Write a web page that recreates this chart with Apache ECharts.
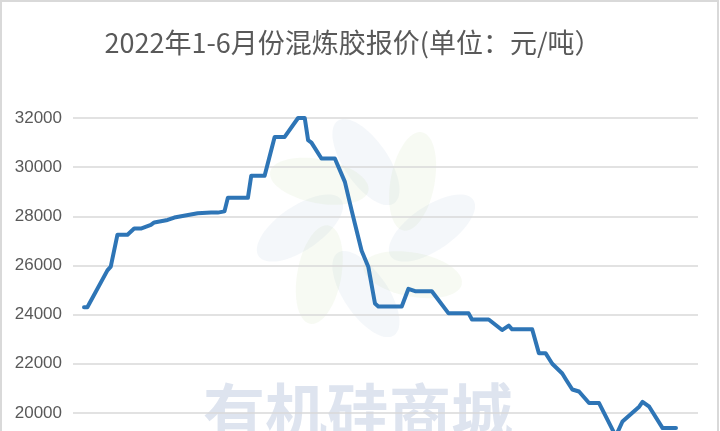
<!DOCTYPE html>
<html>
<head>
<meta charset="utf-8">
<script src="https://cdn.jsdelivr.net/npm/echarts@6/dist/echarts.min.js"></script>
<style>
html,body{margin:0;padding:0;background:#fff;overflow:hidden;}
#chart{width:720px;height:520px;}
</style>
</head>
<body>
<div id="chart"></div>
<script>
// Title
const titleText = '2022年1-6月份混炼胶报价(单位：元/吨）';
const watermarkText = '有机硅商城';

// Dates of price changes (turning points of the line)
const dates = [
  '2022-01-04','2022-01-05','2022-01-11','2022-01-12','2022-01-14','2022-01-17',
  '2022-01-19','2022-01-21','2022-01-24','2022-01-25','2022-01-27','2022-01-29',
  '2022-01-31','2022-02-07','2022-02-11','2022-02-13','2022-02-15','2022-02-16',
  '2022-02-22','2022-02-23','2022-02-27','2022-03-02','2022-03-05','2022-03-09',
  '2022-03-11','2022-03-12','2022-03-13','2022-03-16','2022-03-20','2022-03-23',
  '2022-03-25','2022-03-26','2022-03-28','2022-03-30','2022-04-01','2022-04-02',
  '2022-04-09','2022-04-11','2022-04-13','2022-04-18','2022-04-23','2022-04-29',
  '2022-04-30','2022-05-05','2022-05-09','2022-05-11','2022-05-12','2022-05-18',
  '2022-05-20','2022-05-22','2022-05-24','2022-05-27','2022-05-28','2022-05-30',
  '2022-06-01','2022-06-04','2022-06-07','2022-06-12','2022-06-14','2022-06-19',
  '2022-06-20','2022-06-22','2022-06-26','2022-06-30'
];
// Price (yuan / ton)
const prices = [
  24300,24300,25800,25950,27250,27250,
  27500,27500,27650,27750,27800,27850,
  27950,28120,28150,28150,28200,28750,
  28750,29650,29650,31230,31230,32000,
  32000,31100,31000,30350,30350,29400,
  28250,27700,26600,25950,24450,24330,
  24330,25050,24950,24950,24050,24050,
  23800,23800,23370,23550,23400,23400,
  22430,22430,22000,21600,21380,20950,
  20870,20400,20400,19050,19650,20250,
  20450,20250,19380,19380
];
const yTicks = [18000, 20000, 22000, 24000, 26000, 28000, 30000, 32000];

const chart = echarts.init(document.getElementById('chart'), null, {renderer:'canvas'});

const petals = [];
const petalColors = ['rgba(170,190,220,0.13)','rgba(190,220,160,0.13)'];
for (let i = 0; i < 8; i++) {
  const a = i * Math.PI / 4 - Math.PI / 2;
  petals.push({
    type: 'ellipse',
    x: 366 + Math.cos(a) * 66,
    y: 228 + Math.sin(a) * 66,
    rotation: -a + 0.6,
    shape: {cx: 0, cy: 0, rx: 50, ry: 22},
    style: {fill: petalColors[i % 2]},
    z: -10, silent: true
  });
}

chart.setOption({
  animation: false,
  backgroundColor: '#ffffff',
  grid: {left: 73, right: 22, top: 118, bottom: 58},
  xAxis: {
    type: 'time',
    min: '2021-12-31 17:00',
    max: '2022-07-06 14:00',
    axisLine: {show: false},
    axisTick: {show: false},
    axisLabel: {show: false},
    splitLine: {show: false}
  },
  yAxis: {
    type: 'value',
    min: yTicks[0],
    max: yTicks[yTicks.length - 1],
    interval: 2000,
    axisLine: {show: false},
    axisTick: {show: false},
    axisLabel: {
      color: '#595959',
      fontSize: 17,
      fontFamily: 'Liberation Sans',
      margin: 11,
      formatter: (v) => String(v)
    },
    splitLine: {lineStyle: {color: '#d9d9d9', width: 1.5}}
  },
  graphic: [
    {
      type: 'rect',
      shape: {x: 1, y: 1, width: 717, height: 600},
      style: {fill: 'none', stroke: '#d9d9d9', lineWidth: 2},
      z: -20, silent: true
    }
  ].concat(petals).concat([
    {
      type: 'text',
      x: 358, y: 412,
      style: {
        text: watermarkText,
        fill: 'rgba(200,210,228,0.6)',
        font: 'bold 62px "Noto Sans CJK SC"',
        textAlign: 'center',
        textVerticalAlign: 'middle'
      },
      z: -5, silent: true
    },
    {
      type: 'text',
      x: 353, y: 43,
      style: {
        text: titleText,
        fill: '#595959',
        font: '27px "Noto Sans CJK SC"',
        textAlign: 'center',
        textVerticalAlign: 'middle'
      },
      silent: true
    }
  ]),
  series: [{
    type: 'line',
    data: dates.map((d, i) => [d, prices[i]]),
    showSymbol: false,
    symbol: 'none',
    smooth: false,
    lineStyle: {color: '#2E75B6', width: 4, cap: 'round', join: 'round'},
    z: 5
  }]
});
</script>
</body>
</html>
